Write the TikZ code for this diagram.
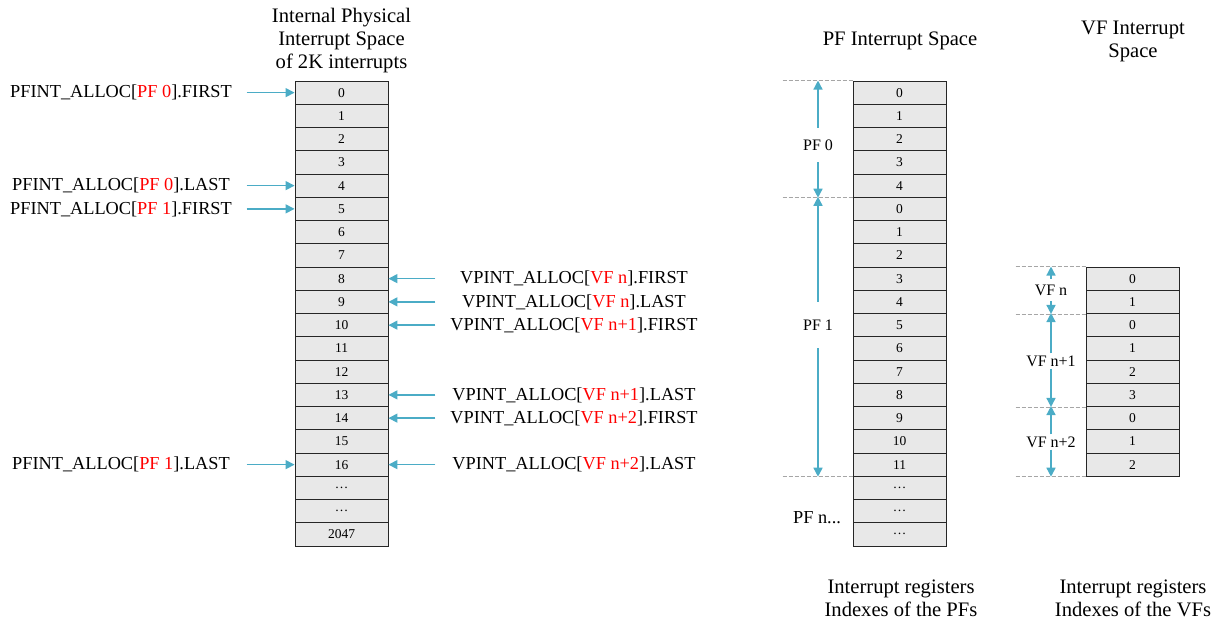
\documentclass[tikz,border=0pt]{standalone}
\usepackage{fontspec}
\setmainfont{Liberation Serif}
\usetikzlibrary{arrows.meta}
\definecolor{arrc}{HTML}{4BACC6}
\definecolor{cellc}{HTML}{E8E8E8}
\definecolor{dashc}{HTML}{A6A6A6}
\newcommand\rd[1]{\textcolor{red}{#1}}
\begin{document}
\begin{tikzpicture}[x=1pt,y=-1pt,
 cell/.style={draw=black!85, line width=0.9pt, fill=cellc, minimum width=93pt, minimum height=23.25pt, inner sep=0pt, font=\fontsize{13.5}{15}\selectfont},
 lab/.style={inner sep=0pt, font=\fontsize{18.3}{22}\selectfont},
 ttl/.style={inner sep=0pt, align=center, font=\fontsize{20.6}{23}\selectfont},
 dim/.style={inner sep=0pt, font=\fontsize{16}{18}\selectfont},
 arr/.style={draw=arrc, line width=1.5pt, -{Triangle[length=9pt,width=9pt]}},
 guide/.style={draw=dashc, line width=0.9pt, dash pattern=on 4pt off 2pt}]
\useasboundingbox (0,0) rectangle (1215,622);

% titles
\node[ttl] (t1) at (341.5,41) {Internal Physical\\Interrupt Space\\of 2K interrupts};
\node[ttl] (t2) at (900,41) {PF Interrupt Space};
\node[ttl] (t3) at (1133,41) {VF Interrupt\\Space};
\node[ttl] (b1) at (901,598) {Interrupt registers\\Indexes of the PFs};
\node[ttl] (b2) at (1133,598) {Interrupt registers\\Indexes of the VFs};

% columns
\foreach \t [count=\i from 0] in {0,1,2,3,4,5,6,7,8,9,10,11,12,13,14,15,16,\ldots,\ldots,2047}
  \node[cell] (L\i) at (341.5,{81+23.25*(\i+0.5)}) {\t};
\foreach \t [count=\i from 0] in {0,1,2,3,4,0,1,2,3,4,5,6,7,8,9,10,11,\ldots,\ldots,\ldots}
  \node[cell] (P\i) at (899.5,{81+23.25*(\i+0.5)}) {\t};
\foreach \t [count=\i from 0] in {0,1,0,1,2,3,0,1,2}
  \node[cell] (V\i) at (1132.5,{267+23.25*(\i+0.5)}) {\t};

% left labels
\node[lab] (a0) at (121,{81+23.25*0.5}) {PFINT\_ALLOC[\rd{PF 0}].FIRST};
\node[lab] (a4) at (121,{81+23.25*4.5}) {PFINT\_ALLOC[\rd{PF 0}].LAST};
\node[lab] (a5) at (121,{81+23.25*5.5}) {PFINT\_ALLOC[\rd{PF 1}].FIRST};
\node[lab] (a16) at (121,{81+23.25*16.5}) {PFINT\_ALLOC[\rd{PF 1}].LAST};
\foreach \r in {0,4,5,16}
  \draw[arr] ([xshift=-48pt]L\r.west) -- (L\r.west);

% right labels
\node[lab] (v8) at (574,{81+23.25*8.5}) {VPINT\_ALLOC[\rd{VF n}].FIRST};
\node[lab] (v9) at (574,{81+23.25*9.5}) {VPINT\_ALLOC[\rd{VF n}].LAST};
\node[lab] (v10) at (574,{81+23.25*10.5}) {VPINT\_ALLOC[\rd{VF n+1}].FIRST};
\node[lab] (v13) at (574,{81+23.25*13.5}) {VPINT\_ALLOC[\rd{VF n+1}].LAST};
\node[lab] (v14) at (574,{81+23.25*14.5}) {VPINT\_ALLOC[\rd{VF n+2}].FIRST};
\node[lab] (v16) at (574,{81+23.25*16.5}) {VPINT\_ALLOC[\rd{VF n+2}].LAST};
\foreach \r in {8,9,10,13,14,16}
  \draw[arr] ([xshift=47pt]L\r.east) -- (L\r.east);

% PF dimensions
\draw[guide] ([xshift=-70pt]P0.north west) -- (P0.north west);
\draw[guide] ([xshift=-70pt]P4.south west) -- (P4.south west);
\draw[guide] ([xshift=-70pt]P16.south west) -- (P16.south west);
\node[dim, minimum height=34pt] (d0) at (818,145) {PF 0};
\node[dim, minimum height=46pt] (d1) at (818,325) {PF 1};
\node[lab] (dn) at (817,518) {PF n...};
\draw[arr] (d0.north) -- (d0.north |- P0.north);
\draw[arr] (d0.south) -- (d0.south |- P4.south);
\draw[arr] (d1.north) -- (d1.north |- P5.north);
\draw[arr] (d1.south) -- (d1.south |- P16.south);

% VF dimensions
\draw[guide] ([xshift=-70pt]V0.north west) -- (V0.north west);
\draw[guide] ([xshift=-70pt]V1.south west) -- (V1.south west);
\draw[guide] ([xshift=-70pt]V5.south west) -- (V5.south west);
\draw[guide] ([xshift=-70pt]V8.south west) -- (V8.south west);
\node[dim, minimum height=22pt] (e0) at (1051,290) {VF n};
\node[dim, minimum height=15pt] (e1) at (1051,361) {VF n+1};
\node[dim, minimum height=15pt] (e2) at (1051,442) {VF n+2};
\draw[arr] (e0.north) -- (e0.north |- V0.north);
\draw[arr] (e0.south) -- (e0.south |- V1.south);
\draw[arr] (e1.north) -- (e1.north |- V2.north);
\draw[arr] (e1.south) -- (e1.south |- V5.south);
\draw[arr] (e2.north) -- (e2.north |- V6.north);
\draw[arr] (e2.south) -- (e2.south |- V8.south);
\end{tikzpicture}
\end{document}
